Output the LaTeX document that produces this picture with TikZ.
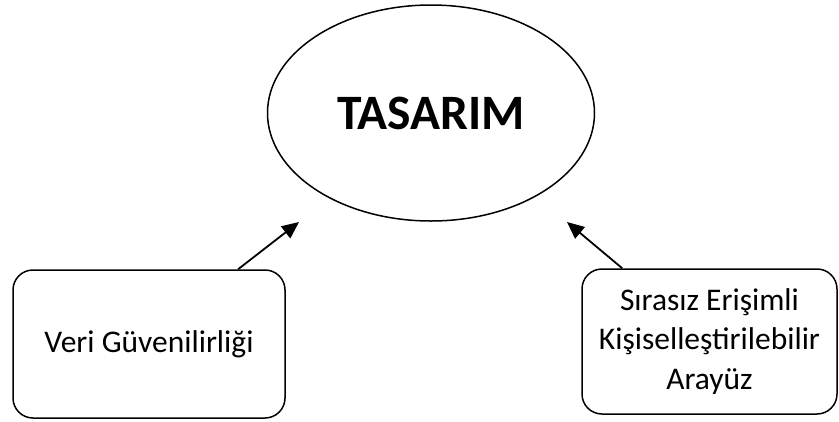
\documentclass[tikz,border=0pt]{standalone}
\usepackage{fontspec}
\setmainfont{Carlito}
\usepackage{tikz}
\usetikzlibrary{arrows.meta,shapes.geometric}

\begin{document}
\begin{tikzpicture}[x=1pt,y=-1pt,line width=1.5pt,
	kutu/.style={draw,rounded corners=20pt,align=center,font=\fontsize{31.5}{39.5}\selectfont},
	ok/.style={-{Triangle[length=17pt,width=15pt]},line width=1.8pt}]
		\useasboundingbox (0,0) rectangle (839,421);
		\node[draw,ellipse,minimum width=327,minimum height=216,inner sep=0,
			font=\fontsize{49.5}{58}\selectfont\bfseries] (tasarim) at (431,113) {TASARIM};
		\node[kutu,minimum width=272,minimum height=148] (veri) at (149,344) {Veri Güvenilirliği};
		\node[kutu,minimum width=255,minimum height=145] (arayuz) at (709.5,341.5)
			{Sırasız Erişimli\\Kişiselleştirilebilir\\Arayüz};
		\coordinate (uc sol) at (299,222);
		\coordinate (uc sag) at (567,222);
		\draw[ok] (veri.40) -- (uc sol);
		\draw[ok] (arayuz.140) -- (uc sag);
	\end{tikzpicture}
\end{document}
